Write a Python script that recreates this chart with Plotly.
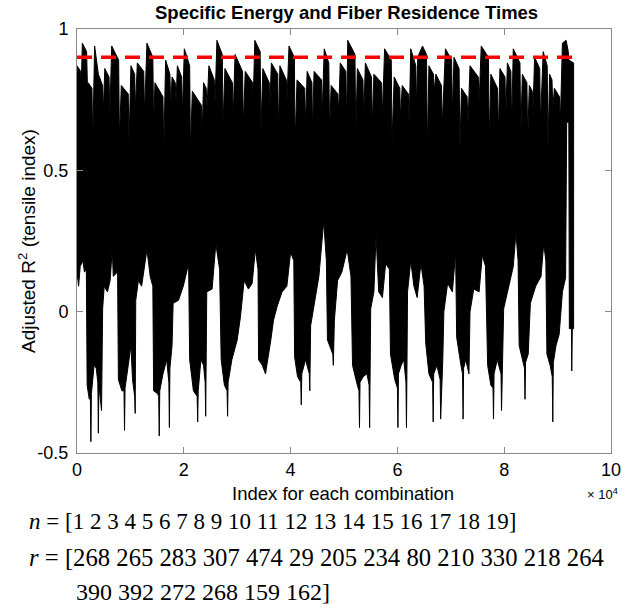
import plotly.graph_objects as go

# ---- data (x in units of 1e4 combinations) ----
upper_x = [0.00, 0.07, 0.08, 0.10, 0.18, 0.195, 0.21, 0.28, 0.295, 0.33, 0.40, 0.48, 0.495, 0.52, 0.60, 0.615, 0.65, 0.78, 0.795, 0.83,
           0.96, 0.975, 1.01, 1.08, 1.095, 1.13, 1.25, 1.265, 1.31, 1.42, 1.435, 1.46, 1.61, 1.625, 1.66, 1.74, 1.755, 1.78, 1.84, 1.855,
           1.88, 1.96, 1.975, 2.01, 2.11, 2.125, 2.16, 2.33, 2.345, 2.37, 2.42, 2.435, 2.47, 2.57, 2.585, 2.62, 2.72, 2.735, 2.77, 2.91,
           2.925, 2.96, 3.10, 3.115, 3.15, 3.29, 3.30, 3.33, 3.43, 3.445, 3.48, 3.60, 3.61, 3.64, 3.76, 3.77, 3.80, 3.92, 3.93, 3.97,
           4.07, 4.085, 4.12, 4.265, 4.28, 4.31, 4.40, 4.41, 4.44, 4.58, 4.59, 4.63, 4.715, 4.73, 4.76, 4.885, 4.90, 4.93, 5.035, 5.05,
           5.07, 5.205, 5.22, 5.25, 5.355, 5.37, 5.40, 5.515, 5.53, 5.56, 5.705, 5.72, 5.76, 5.885, 5.90, 5.94, 6.045, 6.06, 6.09, 6.205,
           6.22, 6.25, 6.345, 6.36, 6.38, 6.47, 6.545, 6.56, 6.59, 6.675, 6.69, 6.72, 6.825, 6.84, 6.90, 7.015, 7.03, 7.06, 7.155, 7.17,
           7.20, 7.305, 7.32, 7.36, 7.515, 7.53, 7.57, 7.705, 7.72, 7.75, 7.875, 7.89, 7.92, 8.015, 8.03, 8.06, 8.125, 8.14, 8.17, 8.295,
           8.31, 8.34, 8.425, 8.44, 8.47, 8.525, 8.54, 8.57, 8.665, 8.68, 8.73, 8.805, 8.82, 8.85, 8.895, 8.91, 8.94, 9.035, 9.05, 9.09,
           9.16, 9.20, 9.21, 9.30]
upper_r2 = [0.87, 0.85, 0.80, 0.95, 0.92, 0.80, 0.81, 0.79, 0.60, 0.94, 0.84, 0.80, 0.71, 0.86, 0.83, 0.70, 0.94, 0.89, 0.61, 0.80,
            0.77, 0.60, 0.87, 0.84, 0.72, 0.88, 0.85, 0.70, 0.95, 0.90, 0.66, 0.81, 0.76, 0.57, 0.89, 0.84, 0.72, 0.83, 0.81, 0.74,
            0.87, 0.83, 0.70, 0.93, 0.87, 0.57, 0.78, 0.73, 0.64, 0.81, 0.79, 0.72, 0.87, 0.82, 0.74, 0.96, 0.91, 0.66, 0.86, 0.81,
            0.69, 0.91, 0.85, 0.66, 0.85, 0.81, 0.75, 0.96, 0.92, 0.64, 0.86, 0.81, 0.72, 0.88, 0.84, 0.64, 0.87, 0.82, 0.74, 0.94,
            0.90, 0.60, 0.82, 0.79, 0.66, 0.85, 0.81, 0.64, 0.85, 0.82, 0.69, 0.93, 0.88, 0.64, 0.80, 0.77, 0.70, 0.88, 0.85, 0.66,
            0.96, 0.91, 0.62, 0.86, 0.82, 0.69, 0.88, 0.83, 0.66, 0.84, 0.81, 0.69, 0.93, 0.89, 0.60, 0.83, 0.79, 0.68, 0.80, 0.77,
            0.66, 0.93, 0.87, 0.72, 0.90, 0.94, 0.91, 0.57, 0.87, 0.84, 0.78, 0.84, 0.80, 0.66, 0.93, 0.89, 0.70, 0.90, 0.86, 0.57,
            0.79, 0.76, 0.66, 0.87, 0.83, 0.74, 0.94, 0.90, 0.60, 0.84, 0.79, 0.63, 0.86, 0.83, 0.69, 0.88, 0.85, 0.66, 0.93, 0.88,
            0.63, 0.84, 0.81, 0.61, 0.80, 0.78, 0.72, 0.90, 0.86, 0.67, 0.92, 0.87, 0.58, 0.84, 0.82, 0.72, 0.79, 0.76, 0.66, 0.95,
            0.96, 0.92, 0.89, 0.88]

lower_x = [0.00, 0.03, 0.06, 0.11, 0.14, 0.175, 0.19, 0.23, 0.25, 0.26, 0.27, 0.32, 0.36, 0.39, 0.40, 0.41, 0.46, 0.48, 0.51, 0.57,
           0.62, 0.66, 0.68, 0.76, 0.775, 0.84, 0.88, 0.89, 0.90, 0.93, 1.01, 1.04, 1.08, 1.09, 1.10, 1.15, 1.21, 1.31, 1.37, 1.42,
           1.435, 1.51, 1.53, 1.54, 1.55, 1.61, 1.68, 1.72, 1.73, 1.74, 1.78, 1.80, 1.90, 1.99, 2.09, 2.11, 2.18, 2.25, 2.26, 2.27,
           2.32, 2.37, 2.40, 2.41, 2.43, 2.53, 2.60, 2.67, 2.70, 2.76, 2.81, 2.82, 2.83, 2.90, 3.00, 3.06, 3.13, 3.21, 3.28, 3.34,
           3.39, 3.40, 3.47, 3.53, 3.57, 3.63, 3.68, 3.75, 3.84, 3.93, 4.00, 4.06, 4.075, 4.13, 4.19, 4.20, 4.21, 4.28, 4.35, 4.36,
           4.375, 4.45, 4.53, 4.62, 4.67, 4.69, 4.75, 4.79, 4.80, 4.82, 4.88, 4.96, 5.06, 5.13, 5.16, 5.25, 5.28, 5.29, 5.30, 5.36,
           5.43, 5.47, 5.48, 5.50, 5.56, 5.60, 5.65, 5.72, 5.78, 5.85, 5.87, 5.95, 6.00, 6.01, 6.02, 6.07, 6.12, 6.16, 6.17, 6.19,
           6.25, 6.31, 6.37, 6.44, 6.50, 6.53, 6.59, 6.66, 6.67, 6.68, 6.74, 6.80, 6.81, 6.85, 6.87, 6.94, 7.03, 7.09, 7.11, 7.19,
           7.22, 7.23, 7.24, 7.28, 7.34, 7.36, 7.43, 7.53, 7.59, 7.65, 7.69, 7.75, 7.79, 7.80, 7.81, 7.87, 7.94, 7.95, 7.99, 8.09,
           8.17, 8.22, 8.26, 8.28, 8.34, 8.38, 8.39, 8.40, 8.45, 8.49, 8.59, 8.69, 8.74, 8.78, 8.80, 8.86, 8.90, 8.91, 8.92, 8.97,
           9.03, 9.09, 9.15, 9.17, 9.21, 9.22, 9.26, 9.265, 9.275, 9.30]
lower_r2 = [0.14, 0.09, 0.16, 0.18, 0.14, 0.15, -0.26, -0.31, -0.30, -0.46, -0.29, -0.19, -0.20, -0.25, -0.43, -0.26, -0.35, 0.01, 0.09, 0.07,
            0.11, 0.22, 0.125, 0.14, -0.24, -0.28, -0.28, -0.42, -0.27, -0.23, -0.12, -0.24, -0.30, -0.36, 0.04, 0.11, 0.09, 0.22, 0.125, 0.09,
            -0.28, -0.29, -0.30, -0.44, -0.28, -0.22, -0.17, -0.25, -0.41, -0.20, -0.12, 0.03, 0.04, 0.09, 0.17, -0.17, -0.28, -0.30, -0.39, -0.28,
            -0.17, -0.19, -0.25, -0.37, 0.07, 0.08, 0.24, 0.15, -0.17, -0.26, -0.28, -0.37, -0.25, -0.17, -0.10, -0.02, 0.11, 0.08, 0.10, 0.22,
            0.15, -0.17, -0.19, -0.22, -0.17, -0.10, -0.03, 0.02, 0.07, 0.09, 0.21, 0.18, -0.16, -0.23, -0.25, -0.33, -0.22, -0.17, -0.22, -0.28,
            -0.05, 0.03, 0.125, 0.32, 0.18, -0.10, -0.13, -0.15, -0.19, -0.03, 0.11, 0.14, 0.22, 0.125, -0.19, -0.26, -0.28, -0.41, -0.25, -0.23,
            -0.22, -0.26, -0.41, 0.01, 0.07, 0.27, 0.07, 0.05, 0.17, 0.15, -0.15, -0.24, -0.27, -0.41, -0.22, -0.19, -0.17, -0.25, -0.41, 0.07,
            0.18, 0.09, 0.05, 0.17, 0.09, -0.11, -0.22, -0.25, -0.39, -0.22, -0.19, -0.24, -0.38, -0.17, 0.00, 0.10, 0.07, 0.21, -0.09, -0.19,
            -0.22, -0.38, -0.20, -0.17, -0.22, 0.00, 0.08, 0.07, 0.20, 0.16, -0.19, -0.26, -0.27, -0.38, -0.22, -0.17, -0.22, -0.35, 0.01, 0.09,
            0.16, 0.28, 0.18, -0.12, -0.17, -0.20, -0.31, -0.18, -0.15, 0.03, 0.09, 0.125, 0.24, 0.18, -0.15, -0.19, -0.23, -0.39, -0.18, -0.12,
            -0.08, 0.07, 0.12, 0.67, 0.67, -0.06, -0.06, -0.21, -0.06, -0.06]

threshold = 0.9
threshold_x = [0.0, 9.30]

x_ticks = [0, 2, 4, 6, 8, 10]
y_ticks = [-0.5, 0, 0.5, 1]
y_tick_labels = ["-0.5", "0", "0.5", "1"]

n_values = list(range(1, 20))
r_values = [268, 265, 283, 307, 474, 29, 205, 234, 80, 210, 330, 218, 264,
            390, 392, 272, 268, 159, 162]

# ---- figure ----
poly_x = upper_x + lower_x[::-1]
poly_y = upper_r2 + lower_r2[::-1]

fig = go.Figure()
fig.add_trace(go.Scatter(x=poly_x, y=poly_y, mode="lines", fill="toself",
                         fillcolor="black", line=dict(color="black", width=1),
                         hoverinfo="skip", showlegend=False))
fig.add_trace(go.Scatter(x=threshold_x, y=[threshold, threshold], mode="lines",
                         line=dict(color="#ff0000", width=3.5, dash="15px,9px"),
                         hoverinfo="skip", showlegend=False))

axis_common = dict(showline=True, linecolor="#8a8a8a", linewidth=1, mirror="ticks",
                   ticks="inside", ticklen=6, tickcolor="#8a8a8a",
                   showgrid=False, zeroline=False, automargin=False,
                   tickfont=dict(family="Liberation Sans, Arial", size=18, color="black"))

fig.update_xaxes(range=[0, 10], tickvals=x_ticks, ticktext=[str(v) for v in x_ticks], **axis_common)
fig.update_yaxes(range=[-0.5, 1], tickvals=y_ticks, ticktext=y_tick_labels, ticklabelstandoff=4, **axis_common)

W, H = 631, 608
L, R, T, B = 77, 611, 29, 453
def px(x):
    return (x - L) / (R - L)
def py(y):
    return (B - y) / (B - T)

sans = "Liberation Sans, Arial"
serif = "Liberation Serif, Times New Roman"
annots = [
    dict(text="<b>Specific Energy and Fiber Residence Times</b>", x=px(346), y=py(12),
         font=dict(family=sans, size=18.5, color="black")),
    dict(text="Index for each combination", x=px(343), y=py(493),
         font=dict(family=sans, size=18.5, color="black")),
    dict(text="\u00d7 10<sup>4</sup>", x=px(602), y=py(494),
         font=dict(family=sans, size=13, color="black")),
    dict(text="Adjusted R<sup>2</sup> (tensile index)", x=px(27), y=py(241), textangle=-90,
         font=dict(family=sans, size=19, color="black")),
    dict(text="<i>n</i> = [" + " ".join(str(v) for v in n_values) + "]", x=px(27), y=py(521),
         xanchor="left", font=dict(family=serif, size=23, color="black")),
    dict(text="<i>r</i> = [" + " ".join(str(v) for v in r_values[:13]), x=px(27), y=py(557),
         xanchor="left", font=dict(family=serif, size=24.7, color="black")),
    dict(text=" ".join(str(v) for v in r_values[13:]) + "]", x=px(74), y=py(592),
         xanchor="left", font=dict(family=serif, size=24, color="black")),
]
for a in annots:
    a.setdefault("xanchor", "center")
    a.update(xref="paper", yref="paper", yanchor="middle", showarrow=False)

fig.update_layout(width=W, height=H, margin=dict(l=L, r=W - R, t=T, b=H - B),
                  plot_bgcolor="white", paper_bgcolor="white",
                  annotations=annots, showlegend=False)

fig.write_html("out.html", config={"displayModeBar": False, "staticPlot": True},
               post_script="document.body.style.margin='0';document.body.style.overflow='hidden';")
